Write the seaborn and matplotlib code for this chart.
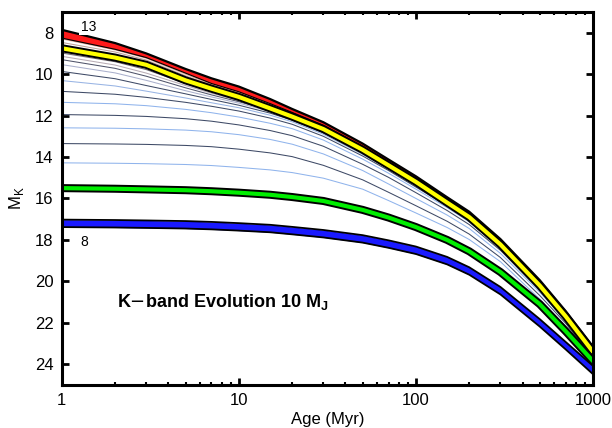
import numpy as np
import pandas as pd
import matplotlib
matplotlib.use("Agg")
import matplotlib.pyplot as plt
import seaborn as sns

age = [1, 2, 3, 5, 7, 10, 15, 20, 30, 50, 70, 100, 150, 200, 300, 500, 700, 1000]

# red band (edges)
red_top = [7.86, 8.5, 9.0, 9.75, 10.2, 10.6, 11.2, 11.68, 12.32, 13.35, 14.12, 14.93, 15.94, 16.64, 17.96, 19.94, 21.43, 23.15]
red_bot = [8.26, 8.8, 9.2, 9.95, 10.45, 10.85, 11.42, 11.85, 12.47, 13.5, 14.26, 15.07, 16.08, 16.78, 18.1, 20.08, 21.56, 23.28]

# thick yellow / green tracks
yellow = [8.75, 9.2, 9.55, 10.3, 10.7, 11.1, 11.65, 12.05, 12.65, 13.65, 14.4, 15.2, 16.2, 16.9, 18.22, 20.2, 21.68, 23.4]
green = [15.5, 15.53, 15.56, 15.6, 15.65, 15.72, 15.82, 15.93, 16.12, 16.55, 16.92, 17.38, 18.0, 18.55, 19.55, 21.1, 22.4, 23.85]

# blue band (edges)
blue_top = [17.02, 17.04, 17.06, 17.09, 17.13, 17.19, 17.27, 17.37, 17.52, 17.77, 18.02, 18.32, 18.82, 19.32, 20.27, 21.82, 22.92, 24.08]
blue_bot = [17.38, 17.4, 17.42, 17.45, 17.49, 17.55, 17.63, 17.73, 17.88, 18.13, 18.38, 18.68, 19.18, 19.68, 20.63, 22.18, 23.28, 24.48]

# thin intermediate tracks (top to bottom)
thin = [
    [8.30, 8.83, 9.23, 10.0, 10.5, 10.9, 11.47, 11.9, 12.52, 13.54, 14.3, 15.1, 16.12, 16.82, 18.14, 20.12, 21.6, 23.32],
    [8.47, 8.93, 9.32, 10.08, 10.55, 10.96, 11.52, 11.94, 12.56, 13.57, 14.33, 15.13, 16.14, 16.84, 18.16, 20.14, 21.62, 23.34],
    [8.66, 9.07, 9.44, 10.18, 10.62, 11.02, 11.58, 11.99, 12.6, 13.61, 14.36, 15.16, 16.17, 16.87, 18.19, 20.17, 21.65, 23.37],
    [8.98, 9.4, 9.78, 10.45, 10.84, 11.22, 11.68, 12.07, 12.68, 13.68, 14.43, 15.23, 16.21, 16.91, 18.22, 20.21, 21.69, 23.43],
    [9.14, 9.56, 9.95, 10.55, 10.92, 11.27, 11.71, 12.09, 12.71, 13.71, 14.45, 15.26, 16.22, 16.92, 18.23, 20.22, 21.69, 23.45],
    [9.30, 9.72, 10.1, 10.66, 11.0, 11.33, 11.75, 12.12, 12.74, 13.74, 14.47, 15.28, 16.23, 16.93, 18.24, 20.23, 21.7, 23.47],
    [9.54, 9.94, 10.3, 10.8, 11.1, 11.4, 11.8, 12.16, 12.78, 13.77, 14.5, 15.31, 16.25, 16.95, 18.25, 20.25, 21.71, 23.5],
    [9.87, 10.22, 10.55, 10.95, 11.22, 11.5, 11.88, 12.22, 12.83, 13.81, 14.53, 15.34, 16.27, 16.97, 18.27, 20.27, 21.72, 23.53],
    [10.31, 10.57, 10.82, 11.15, 11.38, 11.62, 11.98, 12.3, 12.9, 13.87, 14.58, 15.39, 16.31, 17.0, 18.3, 20.29, 21.73, 23.56],
    [10.83, 10.97, 11.12, 11.36, 11.55, 11.78, 12.12, 12.42, 13.0, 13.95, 14.65, 15.45, 16.36, 17.05, 18.34, 20.32, 21.75, 23.58],
    [11.36, 11.43, 11.52, 11.7, 11.86, 12.07, 12.37, 12.63, 13.18, 14.1, 14.78, 15.55, 16.44, 17.13, 18.4, 20.36, 21.78, 23.6],
    [11.95, 11.99, 12.04, 12.15, 12.27, 12.45, 12.72, 12.97, 13.48, 14.35, 14.98, 15.72, 16.58, 17.26, 18.5, 20.42, 21.83, 23.62],
    [12.59, 12.61, 12.64, 12.7, 12.78, 12.92, 13.15, 13.38, 13.85, 14.65, 15.3, 16.0, 16.8, 17.45, 18.65, 20.52, 21.9, 23.65],
    [13.35, 13.37, 13.39, 13.44, 13.5, 13.62, 13.8, 13.98, 14.4, 15.1, 15.7, 16.35, 17.1, 17.72, 18.85, 20.68, 22.02, 23.7],
    [14.28, 14.3, 14.32, 14.36, 14.41, 14.5, 14.62, 14.75, 15.02, 15.55, 16.1, 16.7, 17.4, 17.98, 19.05, 20.85, 22.15, 23.75],
]
thin_colors = ['#d8a898', '#c0a098', '#a89088',
               '#706870', '#b8acb4', '#50546a', '#aab0cc', '#3e4a66', '#98b4e4',
               '#3e4a66', '#90b4ec', '#3e4a66', '#90b4ec', '#3e4a66', '#90b4ec']

sns.set_style("ticks")
plt.rcParams['font.family'] = ['Liberation Sans', 'DejaVu Sans']
plt.rcParams.update({'text.color': 'black', 'axes.labelcolor': 'black',
                     'xtick.color': 'black', 'ytick.color': 'black',
                     'axes.edgecolor': 'black', 'lines.solid_joinstyle': 'round'})

fig = plt.figure(figsize=(6.12, 4.28), dpi=100)
ax = fig.add_axes([0.101, 0.1005, 0.868, 0.8715])

# thin tracks
for vals, c in zip(thin, thin_colors):
    sns.lineplot(x=age, y=vals, color=c, lw=0.75, ax=ax)

# red band
ax.fill_between(age, red_top, red_bot, color='#ff1a1a', lw=0, zorder=3)
sns.lineplot(x=age, y=red_top, color='black', lw=1.6, ax=ax, zorder=3)
sns.lineplot(x=age, y=red_bot, color='black', lw=0.8, ax=ax, zorder=3)

# yellow track
sns.lineplot(x=age, y=yellow, color='black', lw=5.8, ax=ax, zorder=4)
sns.lineplot(x=age, y=yellow, color='#ffff00', lw=3.0, ax=ax, zorder=4)

# green track
sns.lineplot(x=age, y=green, color='black', lw=5.8, ax=ax, zorder=4)
sns.lineplot(x=age, y=green, color='#00ee00', lw=3.0, ax=ax, zorder=4)

# blue band
ax.fill_between(age, blue_top, blue_bot, color='#1a1aff', lw=0, zorder=4)
sns.lineplot(x=age, y=blue_top, color='black', lw=1.3, ax=ax, zorder=4)
sns.lineplot(x=age, y=blue_bot, color='black', lw=1.3, ax=ax, zorder=4)

ax.set_xscale('log')
ax.set_xlim(1, 1000)
ax.set_ylim(25, 7)
ax.set_xticks([1, 10, 100, 1000])
ax.set_xticklabels(['1', '10', '100', '1000'])
ax.set_yticks(range(8, 25, 2))

for s in ax.spines.values():
    s.set_linewidth(2.2)
    s.set_color('black')
    s.set_zorder(6)
ax.tick_params(which='both', direction='in', top=True, right=True, labelsize=12, pad=6,
               color='black', labelcolor='black')
ax.tick_params(which='major', length=5, width=2)
ax.tick_params(which='minor', length=2.5, width=1.5)
ax.tick_params(axis='y', which='minor', left=False, right=False)

ax.set_xlabel('Age (Myr)', fontsize=12, labelpad=3, color='black')
ax.set_ylabel(r'M$_\mathregular{K}$', fontsize=12, labelpad=6, color='black')

ax.text(2.05, 21.0, r'K$-$band Evolution 10 M$_\mathregular{J}$', fontsize=13,
        fontweight='bold', va='center', ha='left', zorder=7, color='black')
ax.text(1.28, 7.72, '13', fontsize=10, va='center', ha='left', zorder=7, color='black',
        bbox=dict(facecolor='white', edgecolor='none', pad=1.0))
ax.text(1.28, 18.08, '8', fontsize=10, va='center', ha='left', zorder=7, color='black')

fig.savefig('out.png', dpi=100)
